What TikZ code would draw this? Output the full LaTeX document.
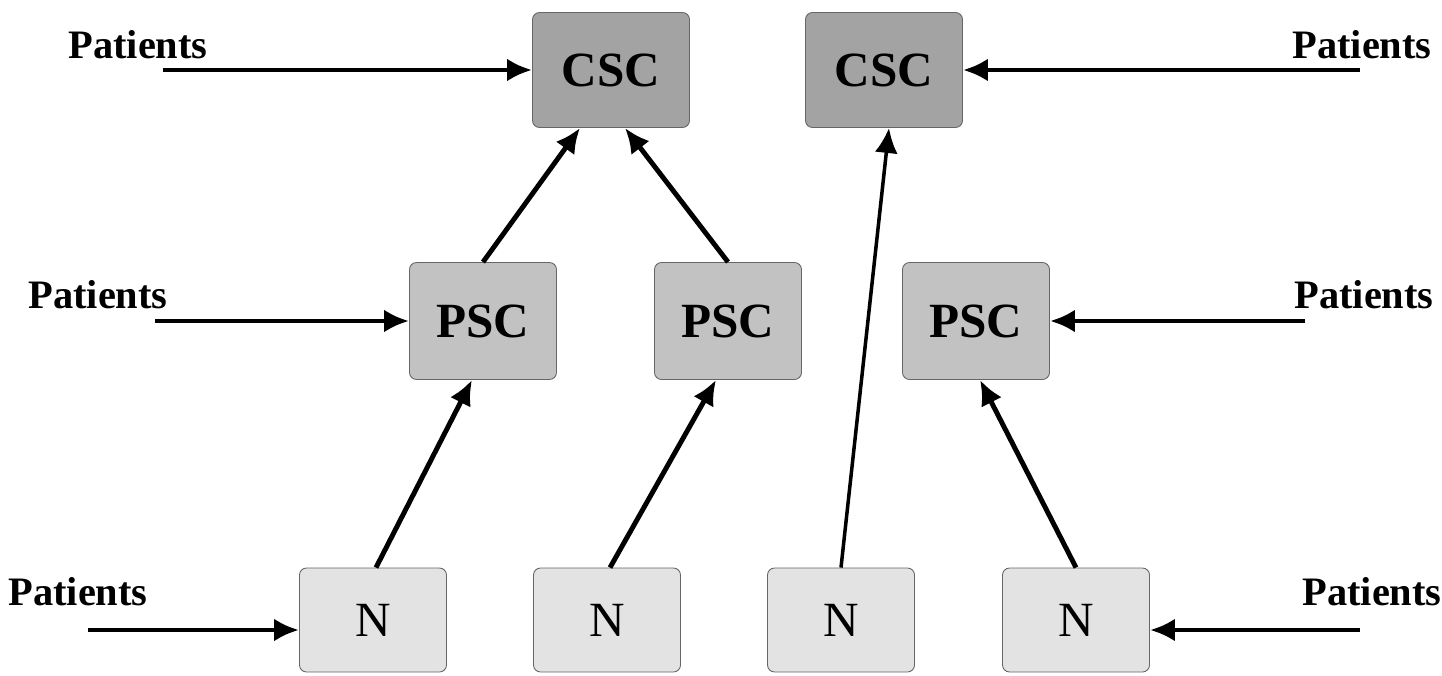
\documentclass[tikz,border=0pt]{standalone}
\usepackage{fontspec}
\setmainfont{Liberation Serif}
\usepackage{xcolor}
\usetikzlibrary{arrows.meta,positioning,calc}

\definecolor{cscgray}{gray}{0.64}
\definecolor{pscgray}{gray}{0.76}
\definecolor{ngray}{gray}{0.89}

\begin{document}
\begin{tikzpicture}[
  box/.style={rectangle, rounded corners=4pt, draw=gray!80!black, line width=0.5pt, minimum width=2.94cm, minimum height=2.34cm, font=\fontsize{28}{32}\selectfont\bfseries, align=center},
  lbl/.style={font=\fontsize{23}{27}\selectfont\bfseries},
  arrow/.style={-{Latex[length=0.5cm,width=0.46cm]}, line width=2.8pt}
]
\useasboundingbox (0,0) rectangle (28.84,13.5);

% Centres
\node[box, fill=cscgray, minimum width=3.14cm, minimum height=2.3cm] (csc1) at (12.22,12.1) {CSC};
\node[box, fill=cscgray, minimum width=3.14cm, minimum height=2.3cm] (csc2) at (17.68,12.1) {CSC};

% Primary centres
\node[box, fill=pscgray] (psc1) at (9.66,7.08) {PSC};
\node[box, fill=pscgray] (psc2) at (14.56,7.08) {PSC};
\node[box, fill=pscgray] (psc3) at (19.52,7.08) {PSC};

% Hospitals
\node[box, fill=ngray, minimum height=2.08cm, font=\fontsize{28}{32}\selectfont] (n1) at (7.46,1.1) {N};
\node[box, fill=ngray, minimum height=2.08cm, font=\fontsize{28}{32}\selectfont] (n2) at (12.14,1.1) {N};
\node[box, fill=ngray, minimum height=2.08cm, font=\fontsize{28}{32}\selectfont] (n3) at (16.82,1.1) {N};
\node[box, fill=ngray, minimum height=2.08cm, font=\fontsize{28}{32}\selectfont] (n4) at (21.52,1.1) {N};

% Patients
\node[lbl] (pat1) at (2.76,12.6) {Patients};
\node[lbl] (pat2) at (27.24,12.6) {Patients};
\node[lbl] (pat3) at (1.96,7.6) {Patients};
\node[lbl] (pat4) at (27.28,7.6) {Patients};
\node[lbl] (pat5) at (1.56,1.66) {Patients};
\node[lbl] (pat6) at (27.44,1.66) {Patients};
\coordinate (in1) at (3.26,12.1);
\coordinate (in2) at (27.2,12.1);
\coordinate (in3) at (3.1,7.08);
\coordinate (in4) at (26.1,7.08);
\coordinate (in5) at (1.76,0.9);
\coordinate (in6) at (27.2,0.9);

% Arrows
\draw[arrow] (in1) -- (csc1.west);
\draw[arrow] (in2) -- (csc2.east);
\draw[arrow] (in3) -- (psc1.west);
\draw[arrow] (in4) -- (psc3.east);
\draw[arrow] (in5) -- (in5 -| n1.west);
\draw[arrow] (in6) -- (in6 -| n4.east);
\draw[arrow] (psc1.north) -- ([xshift=-0.62cm]csc1.south);
\draw[arrow] (psc2.north) -- ([xshift=0.28cm]csc1.south);
\draw[arrow] ([xshift=0.06cm]n1.north) -- ([xshift=-0.22cm]psc1.south);
\draw[arrow] ([xshift=0.06cm]n2.north) -- ([xshift=-0.24cm]psc2.south);
\draw[arrow, line width=2pt] (n3.north) -- ([xshift=0.1cm]csc2.south);
\draw[arrow] (n4.north) -- ([xshift=0.08cm]psc3.south);

\end{tikzpicture}
\end{document}
